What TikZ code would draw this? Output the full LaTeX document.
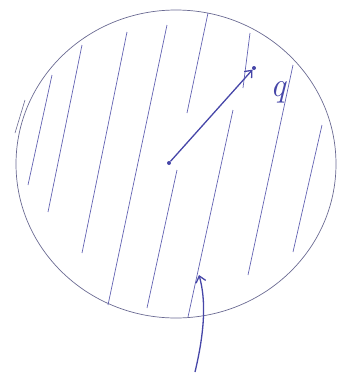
\documentclass[tikz,border=0pt]{standalone}
\usetikzlibrary{arrows.meta}
\definecolor{rim}{HTML}{6A6A92}
\definecolor{hatch}{HTML}{6262B2}
\definecolor{pen}{HTML}{4646A8}
\tikzset{
  hatchline/.style={hatch, line width=0.7pt},
  penarrow/.style={pen, line width=1.3pt, -{Straight Barb[length=6pt,width=10pt]}},
  dotnode/.style={circle, fill=pen, inner sep=0pt, minimum size=4pt}
}
\begin{document}
\begin{tikzpicture}[x=1pt,y=-1pt]
\useasboundingbox (0,0) rectangle (337,373);
% disc outline
\draw[rim, line width=0.7pt] (176,164) ellipse [x radius=160, y radius=154];
\draw[rim, line width=0.6pt] (15,133) -- (25,100);
% hatching
\draw[hatchline] (28,185) -- (52,75);
\draw[hatchline] (48,212) -- (82,45);
\draw[hatchline] (82,253) -- (127,32);
\draw[hatchline] (108,305) -- (167,25);
\draw[hatchline] (147,308) -- (177,170);
\draw[hatchline] (187,113) -- (208,13);
\draw[hatchline] (188,317) -- (233,110);
\draw[hatchline] (243,88) -- (250,33);
\draw[hatchline] (248,275) -- (293,65);
\draw[hatchline] (293,252) -- (322,125);
% radius arrow
\node[dotnode] (c) at (169,163) {};
\node[dotnode, minimum size=4pt] (a) at (254,68) {};
\draw[penarrow] (c) -- (a);
\node[pen, font=\fontsize{34}{34}\selectfont\itshape] (q) at (278,92) {q};
% bottom arrow
\coordinate (s) at (195,372);
\coordinate (e) at (199,275);
\draw[penarrow] (s) .. controls (205,330) and (206,300) .. (e);
\end{tikzpicture}
\end{document}
